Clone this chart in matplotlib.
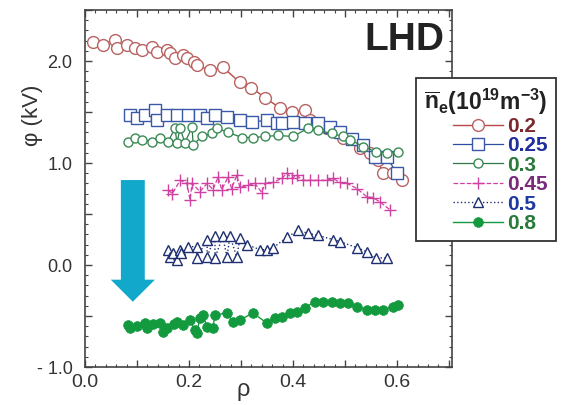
import matplotlib
matplotlib.use('Agg')
import matplotlib.pyplot as plt
from matplotlib.ticker import MultipleLocator, FuncFormatter

plt.rcParams['font.family'] = ['Liberation Sans', 'DejaVu Sans']
plt.rcParams['mathtext.fontset'] = 'custom'
plt.rcParams['mathtext.rm'] = 'Liberation Sans'
plt.rcParams['mathtext.bf'] = 'Liberation Sans:bold'
plt.rcParams['mathtext.it'] = 'Liberation Sans:italic'

# ---------------- data ----------------
rho_02 = [0.015, 0.035, 0.058, 0.062, 0.08, 0.096, 0.11, 0.129, 0.138, 0.158, 0.163, 0.173, 0.188,
          0.196, 0.21, 0.215, 0.24, 0.265, 0.298, 0.32, 0.346, 0.375, 0.398, 0.423, 0.433, 0.465,
          0.496, 0.529, 0.548, 0.563, 0.573, 0.592, 0.61]
phi_02 = [2.19, 2.16, 2.21, 2.13, 2.16, 2.13, 2.11, 2.14, 2.09, 2.11, 2.08, 2.03, 2.06,
          2.03, 1.99, 1.96, 1.91, 1.94, 1.79, 1.74, 1.64, 1.54, 1.50, 1.52, 1.42, 1.34,
          1.25, 1.15, 1.10, 1.03, 0.90, 0.90, 0.83]

rho_025 = [0.087, 0.10, 0.115, 0.135, 0.138, 0.158, 0.177, 0.198, 0.221, 0.235, 0.25, 0.273,
           0.298, 0.321, 0.35, 0.369, 0.379, 0.40, 0.423, 0.448, 0.471, 0.49, 0.513, 0.535,
           0.558, 0.58, 0.60]
phi_025 = [1.47, 1.44, 1.47, 1.52, 1.42, 1.47, 1.47, 1.47, 1.47, 1.44, 1.47, 1.45,
           1.42, 1.40, 1.42, 1.39, 1.39, 1.40, 1.39, 1.39, 1.35, 1.30, 1.24, 1.18,
           1.06, 1.06, 0.90]

rho_03 = [0.083, 0.096, 0.11, 0.129, 0.144, 0.16, 0.173, 0.177, 0.183, 0.192, 0.206, 0.208,
          0.225, 0.244, 0.254, 0.275, 0.302, 0.323, 0.346, 0.371, 0.40, 0.429, 0.448, 0.475,
          0.496, 0.51, 0.535, 0.56, 0.58, 0.602]
phi_03 = [1.21, 1.25, 1.23, 1.21, 1.25, 1.21, 1.34, 1.20, 1.34, 1.20, 1.35, 1.18,
          1.26, 1.29, 1.34, 1.30, 1.25, 1.25, 1.26, 1.27, 1.26, 1.34, 1.32, 1.29,
          1.26, 1.23, 1.16, 1.11, 1.10, 1.11]

rho_045 = [0.16, 0.168, 0.183, 0.196, 0.202, 0.206, 0.221, 0.235, 0.246, 0.256, 0.263, 0.275,
           0.282, 0.292, 0.298, 0.313, 0.327, 0.34, 0.346, 0.362, 0.379, 0.388, 0.398, 0.407,
           0.419, 0.433, 0.448, 0.465, 0.477, 0.49, 0.504, 0.523, 0.542, 0.554, 0.567, 0.587]
phi_045 = [0.735, 0.70, 0.83, 0.80, 0.64, 0.80, 0.72, 0.80, 0.74, 0.86, 0.74, 0.86,
           0.75, 0.88, 0.76, 0.78, 0.80, 0.71, 0.80, 0.81, 0.85, 0.90, 0.85, 0.88,
           0.83, 0.83, 0.83, 0.83, 0.85, 0.81, 0.80, 0.75, 0.67, 0.66, 0.62, 0.54]

rho_05 = [0.16, 0.163, 0.17, 0.177, 0.183, 0.185, 0.198, 0.215, 0.215, 0.235, 0.235, 0.25,
          0.25, 0.265, 0.273, 0.279, 0.292, 0.298, 0.311, 0.337, 0.35, 0.362, 0.388, 0.41,
          0.429, 0.448, 0.477, 0.49, 0.523, 0.542, 0.56, 0.58]
phi_05 = [0.15, 0.08, 0.12, 0.05, 0.15, 0.12, 0.18, 0.18, 0.07, 0.25, 0.08, 0.28,
          0.07, 0.28, 0.08, 0.28, 0.08, 0.26, 0.20, 0.15, 0.15, 0.17, 0.27, 0.34,
          0.31, 0.29, 0.25, 0.23, 0.17, 0.13, 0.07, 0.07]

rho_08 = [0.083, 0.087, 0.10, 0.115, 0.119, 0.13, 0.144, 0.15, 0.158, 0.172, 0.177, 0.188,
          0.202, 0.211, 0.215, 0.221, 0.227, 0.235, 0.246, 0.25, 0.273, 0.285, 0.298, 0.323,
          0.35, 0.365, 0.379, 0.394, 0.407, 0.423, 0.442, 0.458, 0.475, 0.49, 0.506, 0.523,
          0.542, 0.558, 0.573, 0.592, 0.602]
phi_08 = [-0.59, -0.62, -0.60, -0.57, -0.62, -0.58, -0.57, -0.66, -0.62, -0.58, -0.56, -0.59,
          -0.54, -0.64, -0.67, -0.52, -0.49, -0.61, -0.62, -0.49, -0.47, -0.56, -0.54, -0.47,
          -0.57, -0.52, -0.51, -0.47, -0.46, -0.42, -0.36, -0.36, -0.36, -0.37, -0.37, -0.41,
          -0.44, -0.44, -0.44, -0.41, -0.39]

labels = ['0.2', '0.25', '0.3', '0.45', '0.5', '0.8']
label_colors = ['#7A2A2E', '#1E2E9E', '#2A7A3A', '#7A2A7A', '#1E3AA0', '#2A7A3A']

# arrow (data coords)
arrow_x, arrow_top, arrow_tip = 0.092, 0.833, -0.36

# ---------------- figure ----------------
fig = plt.figure(figsize=(5.65, 4.05), dpi=100)
ax = fig.add_axes([85 / 565, 1 - 367 / 405, 367 / 565, 357 / 405])

h02, = ax.plot(rho_02, phi_02, '-o', color='#B84848', mec='#B86262', mfc='white',
               ms=8.5, mew=1.0, lw=1.0)
h025, = ax.plot(rho_025, phi_025, '-s', color='#2E4FA0', mec='#3A58A8', mfc='white',
                ms=8.5, mew=1.0, lw=0.9)
h03, = ax.plot(rho_03, phi_03, '-o', color='#2F7A48', mec='#3A8A55', mfc='white',
               ms=6.5, mew=1.0, lw=0.9)
h045, = ax.plot(rho_045, phi_045, '--+', color='#D040A0', ms=9, mew=1.0, lw=0.9)
h05, = ax.plot(rho_05, phi_05, ':^', color='#1E2E70', mec='#1E2E70', mfc='white',
               ms=7, mew=1.0, lw=1.0)
h08, = ax.plot(rho_08, phi_08, '-o', color='#139A3E', mec='#139A3E', mfc='#139A3E',
               ms=7, mew=0.5, lw=1.0)

ax.arrow(arrow_x, arrow_top, 0, arrow_tip - arrow_top, width=0.046, head_width=0.085,
         head_length=0.216, length_includes_head=True, color='#12A8CC', lw=0, zorder=4)

ax.set_xlim(0, 0.706)
ax.set_ylim(-1.0, 2.5)

ax.xaxis.set_major_locator(MultipleLocator(0.1))
ax.xaxis.set_minor_locator(MultipleLocator(0.02))
ax.yaxis.set_major_locator(MultipleLocator(0.5))
ax.yaxis.set_minor_locator(MultipleLocator(0.1))


def xfmt(v, pos):
    k = int(round(v * 10))
    return '%.1f' % (k / 10) if k % 2 == 0 else ''


def yfmt(v, pos):
    k = int(round(v * 2))
    if k % 2:
        return ''
    val = k // 2
    return '- 1.0' if val == -1 else '%.1f' % val


ax.xaxis.set_major_formatter(FuncFormatter(xfmt))
ax.yaxis.set_major_formatter(FuncFormatter(yfmt))
ax.tick_params(which='both', direction='in', top=True, right=True, color='#444444')
ax.tick_params(which='major', length=5, width=1.0)
ax.tick_params(which='minor', length=2.5, width=0.8)
ax.tick_params(axis='x', labelsize=14, labelcolor='#333333', pad=5)
ax.tick_params(axis='y', labelsize=13, labelcolor='#333333', pad=9)
for s in ax.spines.values():
    s.set_color('#444444')
    s.set_linewidth(1.2)

ax.set_xlabel('ρ', fontsize=17, color='#333333')
ax.xaxis.set_label_coords(0.43, -0.035)
ax.set_ylabel('φ (kV)', fontsize=16, color='#333333')
ax.yaxis.set_label_coords(-0.115, 0.706)

ax.text(0.869, 0.916, 'LHD', transform=ax.transAxes, ha='center', va='center',
        fontsize=28, fontweight='bold', color='#222222')

leg = ax.legend([h02, h025, h03, h045, h05, h08], labels,
                title=r'$\mathbf{\overline{n}_e(10^{19}m^{-3})}$',
                loc='upper left', bbox_to_anchor=(416 / 565, 1 - 78 / 405),
                bbox_transform=fig.transFigure, borderaxespad=0,
                prop={'weight': 'bold', 'size': 15},
                title_fontproperties={'size': 16.5, 'weight': 'bold'},
                labelcolor=label_colors, handlelength=2.4, handletextpad=0.2,
                labelspacing=0.02, borderpad=0.4, fancybox=False, framealpha=1,
                edgecolor='#333333')
leg.get_frame().set_linewidth(1.3)
leg.get_title().set_color('#222222')
leg._legend_box.align = 'right'

fig.savefig('out.png', dpi=100)
